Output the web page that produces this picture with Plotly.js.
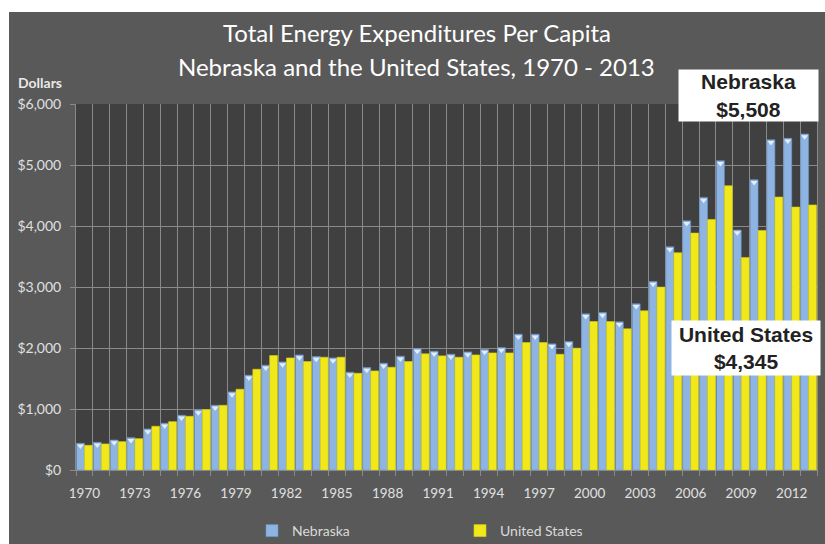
<!DOCTYPE html>
<html>
<head>
<meta charset="utf-8">
<script src="https://cdn.plot.ly/plotly-3.0.1.min.js"></script>
<style>
  html, body { margin: 0; padding: 0; background: #ffffff; width: 825px; height: 544px; overflow: hidden; }
  #chart { position: absolute; left: 9px; top: 12px; width: 816px; height: 532px; }
</style>
</head>
<body>
<div id="chart"></div>
<script>
// ---- Data ----
const years = [1970,1971,1972,1973,1974,1975,1976,1977,1978,1979,
               1980,1981,1982,1983,1984,1985,1986,1987,1988,1989,
               1990,1991,1992,1993,1994,1995,1996,1997,1998,1999,
               2000,2001,2002,2003,2004,2005,2006,2007,2008,2009,
               2010,2011,2012,2013];
const nebraska = [438,454,492,530,673,766,897,985,1061,1280,
                  1554,1718,1772,1887,1860,1838,1603,1679,1750,1865,
                  1991,1947,1898,1936,1975,2007,2226,2226,2068,2106,
                  2560,2582,2429,2724,3091,3659,4086,4469,5071,3933,
                  4759,5415,5437,5508];
const unitedStates = [405,427,465,514,717,793,881,990,1061,1324,
                      1652,1876,1838,1778,1849,1849,1586,1625,1685,1778,
                      1904,1871,1849,1887,1920,1920,2090,2090,1898,1997,
                      2434,2434,2314,2609,2998,3561,3884,4108,4660,3484,
                      3927,4474,4310,4345];
const seriesNames = ['Nebraska', 'United States'];
const titleLines = ['Total Energy Expenditures Per Capita',
                    'Nebraska and the United States, 1970 - 2013'];
const yAxisLabel = 'Dollars';
const calloutNE = ['Nebraska', '$5,508'];
const calloutUS = ['United States', '$4,345'];

// ---- Styling ----
const BLUE = '#8DB4E2';
const YELLOW = '#F0E81A';
const GRID = '#8a8a8a';
const FONT = 'Lato, "Open Sans", sans-serif';
const BARGAP = 0.06;

// small light cap on top of each Nebraska bar (cone-like highlight)
const capOffset = -(1 - BARGAP) / 4;
const capX = years.map(y => y + capOffset);
const capY = nebraska.map(v => v - 45);

const traces = [
  { type: 'bar', name: seriesNames[0], x: years, y: nebraska,
    marker: { color: BLUE, line: { color: '#6f94c4', width: 0.6 } } },
  { type: 'bar', name: seriesNames[1], x: years, y: unitedStates,
    marker: { color: YELLOW, line: { color: '#d6cf10', width: 0.6 } } },
  { type: 'scatter', mode: 'markers', x: capX, y: capY, showlegend: false,
    marker: { symbol: 'triangle-down', size: 6, color: '#e4eefa', line: { width: 0 } },
    hoverinfo: 'skip' }
];

const layout = {
  width: 816, height: 532,
  paper_bgcolor: '#595959',
  plot_bgcolor: '#404040',
  margin: { l: 67, r: 8, t: 92, b: 74, pad: 0 },
  barmode: 'group',
  bargap: BARGAP,
  bargroupgap: 0,
  showlegend: true,
  font: { family: FONT, color: '#d9d9d9', size: 14 },
  xaxis: {
    type: 'linear',
    range: [1969.5, 2013.5],
    tick0: 1970, dtick: 3,
    showgrid: false, zeroline: false,
    ticks: 'outside', ticklen: 5, tickcolor: 'rgba(0,0,0,0)',
    ticklabelstandoff: 6,
    tickfont: { family: FONT, size: 13.5, color: '#e0e0e0' },
    showline: true, linecolor: GRID, linewidth: 1,
    minor: { tick0: 1969.5, dtick: 1, showgrid: true, gridcolor: GRID, gridwidth: 1,
             ticks: 'outside', ticklen: 5, tickcolor: GRID }
  },
  yaxis: {
    range: [0, 6000], dtick: 1000,
    tickprefix: '$', tickformat: ',d',
    showgrid: true, gridcolor: GRID, gridwidth: 1,
    zeroline: false,
    ticks: 'outside', ticklen: 5, tickcolor: GRID,
    ticklabelstandoff: 6,
    tickfont: { family: FONT, size: 14, color: '#e0e0e0' },
    showline: true, mirror: true, linecolor: GRID, linewidth: 1
  },
  legend: {
    orientation: 'h',
    xref: 'container', yref: 'container',
    x: 0.2978, xanchor: 'left',
    y: 0.0244, yanchor: 'middle',
    bgcolor: 'rgba(0,0,0,0)',
    font: { family: FONT, size: 14, color: '#d9d9d9' },
    entrywidth: 163, entrywidthmode: 'pixels',
    traceorder: 'normal'
  },
  annotations: [
    { text: titleLines[0], xref: 'paper', yref: 'paper', x: 0.460, y: 1.195,
      xanchor: 'center', yanchor: 'middle', showarrow: false,
      font: { family: FONT, size: 24, color: '#ffffff' } },
    { text: titleLines[1], xref: 'paper', yref: 'paper', x: 0.460, y: 1.1025,
      xanchor: 'center', yanchor: 'middle', showarrow: false,
      font: { family: FONT, size: 24, color: '#ffffff' } },
    { text: '<b>' + yAxisLabel + '</b>', xref: 'paper', yref: 'paper', x: -0.0486, y: 1.06,
      xanchor: 'center', yanchor: 'middle', showarrow: false,
      font: { family: FONT, size: 14, color: '#e8e8e8' } },
    { text: '<b>' + calloutNE.join('<br>') + '</b>', xref: 'paper', yref: 'paper',
      x: 0.908, y: 1.023, xanchor: 'center', yanchor: 'middle', showarrow: false,
      bgcolor: '#ffffff', width: 136, height: 48, borderpad: 1.5,
      font: { family: '"Liberation Sans", Arial, sans-serif', size: 21, color: '#222222' } },
    { text: '<b>' + calloutUS.join('<br>') + '</b>', xref: 'paper', yref: 'paper',
      x: 0.9036, y: 0.333, xanchor: 'center', yanchor: 'middle', showarrow: false,
      bgcolor: '#ffffff', width: 145, height: 51, borderpad: 1.5,
      font: { family: '"Liberation Sans", Arial, sans-serif', size: 21, color: '#222222' } }
  ],
  hovermode: false
};

Plotly.newPlot('chart', traces, layout, { staticPlot: true, displayModeBar: false });
</script>
</body>
</html>
